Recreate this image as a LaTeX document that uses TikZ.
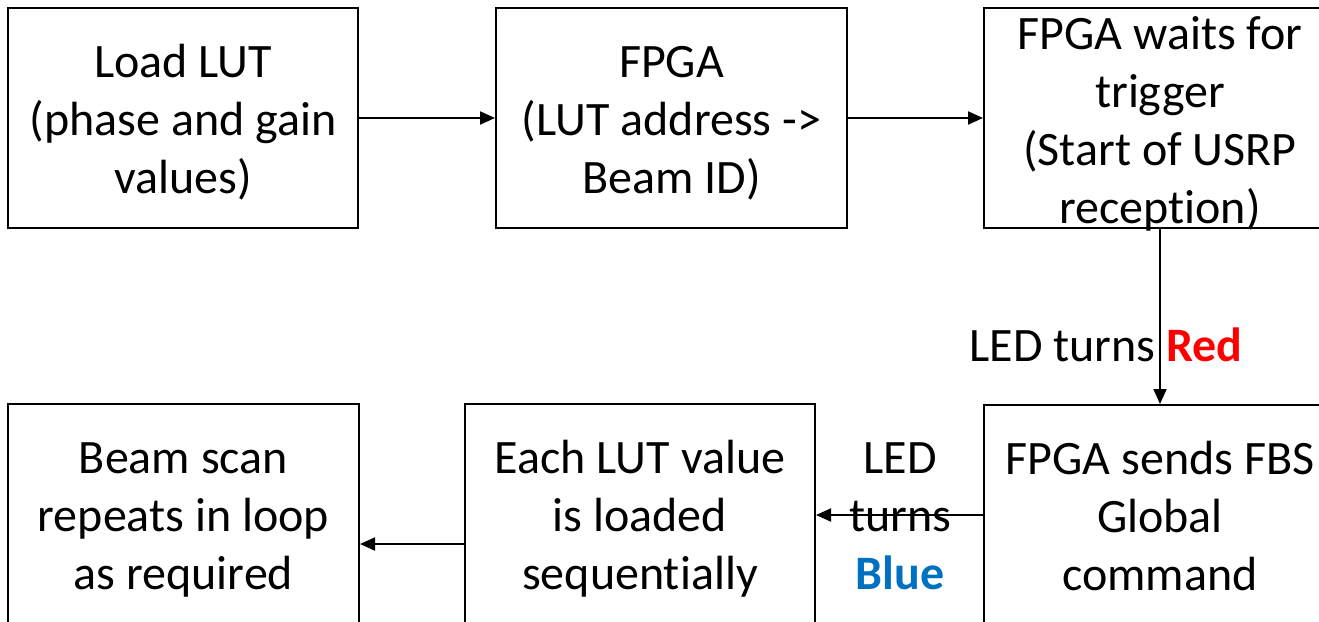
\documentclass[tikz,border=0pt]{standalone}
\usepackage{fontspec}
\setmainfont{Carlito}[Ligatures={NoCommon}]
\usetikzlibrary{arrows.meta}
\definecolor{ledred}{RGB}{255,0,0}
\definecolor{ledblue}{RGB}{0,112,192}
\newcommand\mytop{\rule{0pt}{47pt}}
\newcommand\mybot{\rule[-12pt]{0pt}{0pt}}
\newcommand\nodepth[1]{\raisebox{0pt}[\height][0pt]{#1}}
\tikzset{
  box/.style={draw, line width=2pt, minimum width=#1, minimum height=220pt,
    align=center, font=\fontsize{48}{58}\selectfont, inner sep=0pt},
  box/.default=350pt,
  conn/.style={line width=2pt, -{Triangle[length=15pt,width=13pt]}},
  lbl/.style={font=\fontsize{48}{58}\selectfont, align=center, inner sep=0pt}
}
\begin{document}
\begin{tikzpicture}[x=1pt,y=-1pt]
\useasboundingbox (0,0) rectangle (1319,621);
\clip (0,0) rectangle (1319,621);
\node[box] (load) at (183,118) {\mytop Load LUT\\(phase and gain\\values)\mybot};
\node[box=351pt] (fpga) at (671.5,118) {\mytop FPGA\\(LUT address ->\\Beam ID)\mybot};
\node[box=352pt] (wait) at (1160,118) {\rule{0pt}{41pt}FPGA waits for\\trigger\\(Start of USRP\\\nodepth{reception)}\rule[-5pt]{0pt}{0pt}};
\node[box=352pt] (send) at (1160,515) {\mytop FPGA sends FBS\\Global\\command\mybot};
\node[box] (seq) at (640,514) {\mytop Each LUT value\\is loaded\\sequentially\mybot};
\node[box=351pt] (scan) at (183.5,514) {\mytop Beam scan\\repeats in loop\\as required\mybot};
\draw[conn] (load) -- (fpga);
\draw[conn] (fpga) -- (wait);
\draw[conn] (wait) -- (send);
\draw[conn] (send.west) -- (send.west -| seq.east);
\draw[conn] ([yshift=-30pt]seq.west) -- ([yshift=-30pt]seq.west -| scan.east);
\node[lbl] (redlbl) at (1106,345) {LED turns \textcolor{ledred}{\textbf{Red}}};
\node[lbl] (bluelbl) at (900,516) {LED\\turns\\\textcolor{ledblue}{\textbf{Blue}}};
\end{tikzpicture}
\end{document}
